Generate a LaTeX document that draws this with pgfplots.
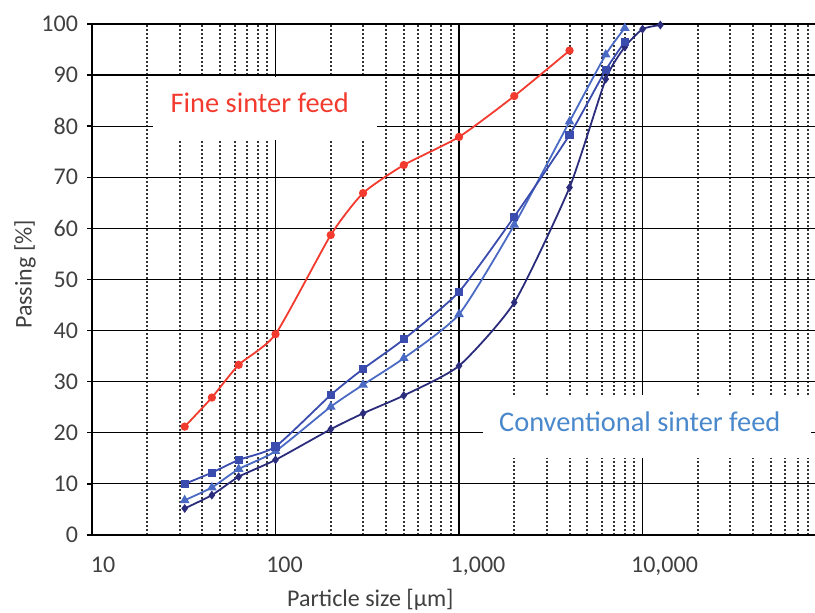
\documentclass[border=0pt]{standalone}
\usepackage{fontspec}
\setmainfont{Carlito}
\usepackage{pgfplots}
\pgfplotsset{compat=1.18}
\definecolor{redf}{HTML}{F23B2E}
\definecolor{bA}{HTML}{3A4CAE}
\definecolor{bB}{HTML}{4A6AC4}
\definecolor{bC}{HTML}{2B2D7C}
\definecolor{conv}{HTML}{4A88CC}
\definecolor{tickc}{HTML}{404040}
\begin{document}
\begin{tikzpicture}
\useasboundingbox (-46pt,-39pt) rectangle (361.5pt,267.5pt);
\begin{axis}[
  at={(0,0)}, anchor=south west, scale only axis,
  width=361.5pt, height=255.5pt,
  font=\fontsize{12}{14}\selectfont,
  xmode=log, xmin=10, xmax=87000, ymin=0, ymax=100,
  axis lines=left, axis line style={-, line width=0.8pt, black},
  ytick={0,10,...,100},
  xtick={10,100,1000,10000},
  xticklabels={{\hspace{11pt}10},{\hspace{9pt}100},{\hspace{19pt}1,000},{\hspace{22pt}10,000}},
  minor xtick={20,30,40,50,60,70,80,90,200,300,400,500,600,700,800,900,2000,3000,4000,5000,6000,7000,8000,9000,20000,30000,40000,50000,60000,70000,80000},
  xmajorgrids, xminorgrids, ymajorgrids,
  major grid style={line width=0.6pt, black},
  minor grid style={line width=1pt, black!80, densely dotted},
  tick align=outside, major tick length=2.5pt, minor tick length=0pt,
  tick style={line width=0.7pt, black},
  xtick style={draw=none},
  ticklabel style={text=tickc},
  /pgf/number format/assume math mode=true,
  yticklabel style={xshift=-1pt},
  xticklabel style={yshift=-5pt},
  xlabel={Particle size [µm]},
  ylabel={Passing [\%]},
  label style={text=tickc},
  xlabel style={at={(0.385,0)}, anchor=center, yshift=-32.5pt},
  ylabel style={at={(-0.0927,0.51)}, anchor=center},
  clip=false,
]
\fill[white] (axis cs:21.5,77.3) rectangle (axis cs:356,89.6);
\fill[white] (axis cs:1349,15.1) rectangle (axis cs:83000,27.4);
\node[text=redf, font=\fontsize{14.2}{16}\selectfont] at (axis cs:82,84.5) {Fine sinter feed};
\node[text=conv, font=\fontsize{14.2}{16}\selectfont] at (axis cs:9660,22.2) {Conventional sinter feed};

\addplot[redf, line width=0.9pt, smooth, tension=0.35, mark=*, mark size=1.6pt] coordinates {
(32,21.2) (45,26.9) (63,33.3) (100,39.3) (200,58.7) (300,66.9) (500,72.4) (1000,77.9) (2000,85.9) (4000,94.8)};

\addplot[bC, line width=0.9pt, smooth, tension=0.35, mark=diamond*, mark size=1.5pt] coordinates {
(32,5.2) (45,7.8) (63,11.4) (100,14.7) (200,20.7) (300,23.8) (500,27.3) (1000,33.1) (2000,45.5) (4000,68.0) (6300,89.2) (8000,95.5) (10000,99.0) (12500,99.8)};

\addplot[bB, line width=0.9pt, smooth, tension=0.35, mark=triangle*, mark size=1.9pt] coordinates {
(32,6.8) (45,9.3) (63,12.9) (100,16.4) (200,25.1) (300,29.4) (500,34.6) (1000,43.2) (2000,60.7) (4000,80.9) (6300,94.0) (8000,99.2)};

\addplot[bA, line width=0.9pt, smooth, tension=0.35, mark=square*, mark size=1.6pt] coordinates {
(32,10.0) (45,12.2) (63,14.7) (100,17.3) (200,27.4) (300,32.5) (500,38.3) (1000,47.6) (2000,62.3) (4000,78.3) (6300,91.0) (8000,96.5)};
\end{axis}
\end{tikzpicture}
\end{document}
